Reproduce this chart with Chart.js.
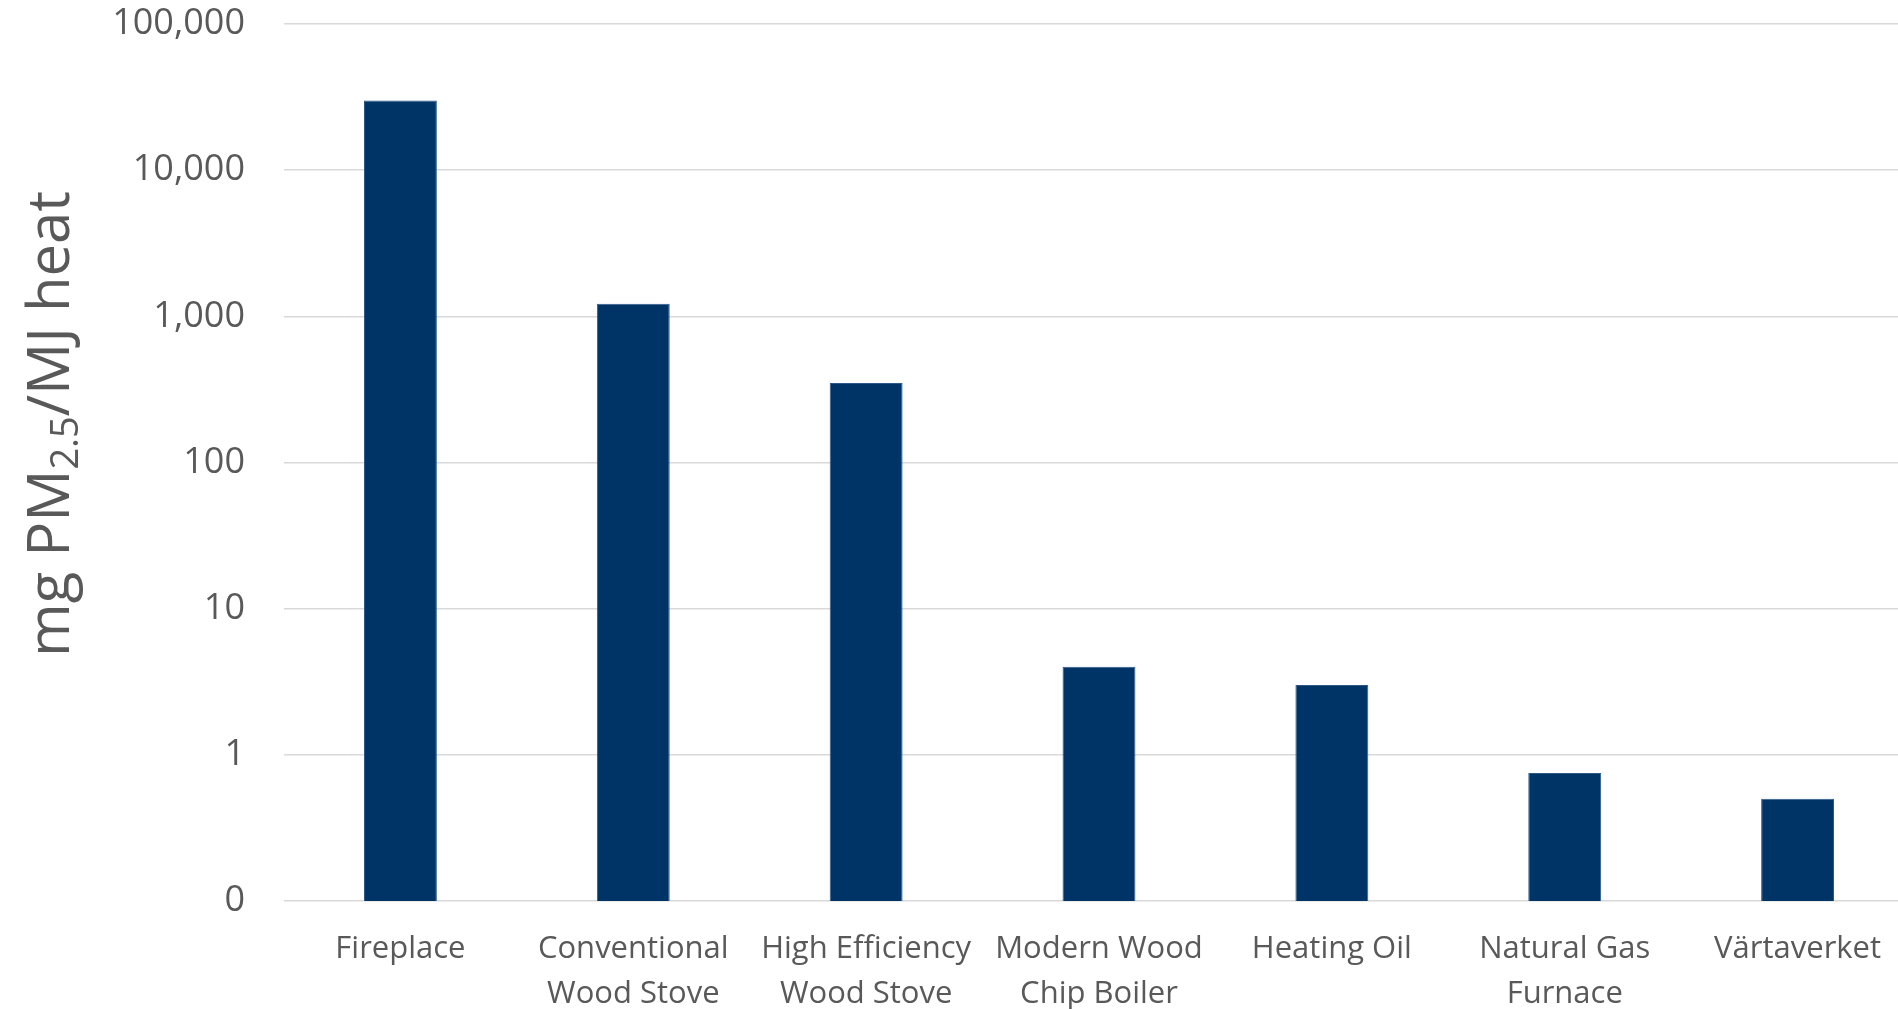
<!DOCTYPE html>
<html>
<head>
<meta charset="utf-8">
<script src="https://cdn.jsdelivr.net/npm/chart.js@4.4.0/dist/chart.umd.min.js"></script>
<style>
  html, body { margin: 0; background: #fff; overflow: hidden; }
  canvas { display: block; }
</style>
</head>
<body>
<!-- the original plot runs a little past the right edge, so the canvas is wider than the window -->
<canvas id="pmChart" width="1914" height="1009"></canvas>
<script>
const categories = [
  ['Fireplace'],
  ['Conventional', 'Wood Stove'],
  ['High Efficiency', 'Wood Stove'],
  ['Modern Wood', 'Chip Boiler'],
  ['Heating Oil'],
  ['Natural Gas', 'Furnace'],
  ['Värtaverket']
];
const pmValues = [30000, 1220, 350, 4, 3, 0.75, 0.5];
const yTicks = [0.1, 1, 10, 100, 1000, 10000, 100000];

const textColor = '#595959';
const fontFamily = '"Open Sans", sans-serif';

// y title with subscript, Chart.js titles can't do that
const yTitlePlugin = {
  id: 'yTitle',
  afterDraw(chart) {
    const ctx = chart.ctx;
    const big = '58px ' + fontFamily;
    const small = '38px ' + fontFamily;
    const parts = [
      { t: 'mg PM', f: big, dy: 0 },
      { t: '2.5', f: small, dy: 15 },
      { t: '/MJ heat', f: big, dy: 0 }
    ];
    ctx.save();
    let total = 0;
    parts.forEach(p => { ctx.font = p.f; p.w = ctx.measureText(p.t).width; total += p.w; });
    ctx.translate(52, 424);
    ctx.rotate(-Math.PI / 2);
    ctx.fillStyle = textColor;
    ctx.textBaseline = 'middle';
    let x = -total / 2;
    parts.forEach(p => {
      ctx.font = p.f;
      ctx.fillText(p.t, x, p.dy);
      x += p.w;
    });
    ctx.restore();
  }
};

const ctx = document.getElementById('pmChart').getContext('2d');
new Chart(ctx, {
  type: 'bar',
  data: {
    labels: categories,
    datasets: [{
      data: pmValues,
      backgroundColor: '#003366',
      borderColor: '#2b5a8a',
      borderWidth: 1,
      categoryPercentage: 1,
      barPercentage: 0.313
    }]
  },
  options: {
    responsive: false,
    animation: false,
    layout: { padding: { top: 24, right: 0, bottom: 0, left: 0 } },
    plugins: {
      legend: { display: false },
      tooltip: { enabled: false }
    },
    scales: {
      x: {
        grid: { display: false },
        border: { display: false },
        ticks: {
          color: textColor,
          font: { family: fontFamily, size: 31, lineHeight: 1.45 },
          maxRotation: 0,
          autoSkip: false,
          padding: 18
        },
        afterFit(scale) { scale.height = 108; }
      },
      y: {
        type: 'logarithmic',
        min: 0.1,
        max: 100000,
        grid: { color: '#d9d9d9', lineWidth: 1.5, drawTicks: true, tickLength: 39, tickColor: 'rgba(0,0,0,0)' },
        border: { display: false },
        ticks: {
          color: textColor,
          font: { family: fontFamily, size: 36 },
          padding: 0,
          callback: v => v < 1 ? '0' : v.toLocaleString('en-US')
        },
        afterBuildTicks(scale) {
          scale.ticks = yTicks.map(v => ({ value: v }));
        },
        afterFit(scale) { scale.width = 284; }
      }
    }
  },
  plugins: [yTitlePlugin]
});
</script>
</body>
</html>
